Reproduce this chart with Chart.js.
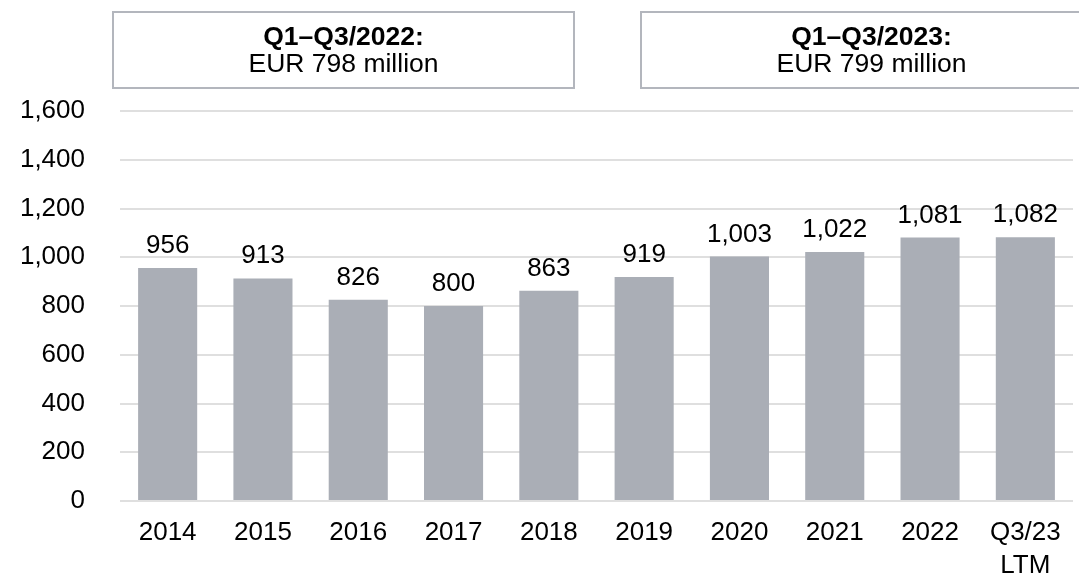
<!DOCTYPE html>
<html>
<head>
<meta charset="utf-8">
<script src="https://cdn.jsdelivr.net/npm/chart.js@4.4.0/dist/chart.umd.min.js"></script>
<style>
html,body{margin:0;padding:0;background:#fff;}
#wrap{width:1079px;height:575px;position:relative;}
</style>
</head>
<body>
<div id="wrap"><canvas id="c" width="1079" height="575"></canvas></div>
<script>
const categories = ["2014","2015","2016","2017","2018","2019","2020","2021","2022",["Q3/23","LTM"]];
const values = [956, 913, 826, 800, 863, 919, 1003, 1022, 1081, 1082];
const yTicks = [0, 200, 400, 600, 800, 1000, 1200, 1400, 1600];
const boxTitles = ["Q1\u2013Q3/2022:", "Q1\u2013Q3/2023:"];
const boxValues = ["EUR 798 million", "EUR 799 million"];

const FONT = '"Liberation Sans", Arial, Helvetica, sans-serif';
const fmt = v => v.toLocaleString('en-US');

const valueLabels = {
  id: 'valueLabels',
  afterDatasetsDraw(chart) {
    const ctx = chart.ctx;
    const meta = chart.getDatasetMeta(0);
    ctx.save();
    ctx.font = '26px ' + FONT;
    ctx.fillStyle = '#000';
    ctx.textAlign = 'center';
    ctx.textBaseline = 'alphabetic';
    meta.data.forEach((bar, i) => {
      ctx.fillText(fmt(values[i]), bar.x, bar.y - 15);
    });
    ctx.restore();
  }
};

const boxes = {
  id: 'boxes',
  afterDraw(chart) {
    const ctx = chart.ctx;
    const rects = [[113, 12, 461, 76, 343.5], [641, 12, 445, 76, 871.5]];
    ctx.save();
    rects.forEach((r, i) => {
      ctx.strokeStyle = '#b3b6bd';
      ctx.lineWidth = 2;
      ctx.strokeRect(r[0], r[1], r[2], r[3]);
      ctx.fillStyle = '#000';
      ctx.textAlign = 'center';
      ctx.textBaseline = 'alphabetic';
      ctx.font = 'bold 26.5px ' + FONT;
      ctx.fillText(boxTitles[i], r[4], 45);
      ctx.font = '26.5px ' + FONT;
      ctx.fillText(boxValues[i], r[4], 72);
    });
    ctx.restore();
  }
};

new Chart(document.getElementById('c'), {
  type: 'bar',
  data: {
    labels: categories,
    datasets: [{
      data: values,
      backgroundColor: '#aaaeb6',
      borderWidth: 0,
      barPercentage: 0.62,
      categoryPercentage: 1.0
    }]
  },
  options: {
    responsive: false,
    animation: false,
    devicePixelRatio: 1,
    layout: { padding: { top: 111, right: 6, left: 0, bottom: 0 } },
    plugins: { legend: { display: false }, tooltip: { enabled: false } },
    scales: {
      x: {
        grid: { display: false, drawTicks: false },
        border: { display: false },
        ticks: {
          color: '#000',
          font: { family: FONT, size: 26, lineHeight: 1.27 },
          padding: 15,
          maxRotation: 0,
          autoSkip: false
        },
        afterFit(axis) { axis.height = 74; }
      },
      y: {
        min: 0,
        max: 1600,
        afterBuildTicks(axis) { axis.ticks = yTicks.map(v => ({ value: v })); },
        grid: { color: '#dfdfdf', lineWidth: 2, drawTicks: false },
        border: { display: false },
        ticks: {
          color: '#000',
          font: { family: FONT, size: 26 },
          padding: 35,
          callback: v => fmt(v)
        },
        afterFit(axis) { axis.width = 120; }
      }
    }
  },
  plugins: [valueLabels, boxes]
});
</script>
</body>
</html>
